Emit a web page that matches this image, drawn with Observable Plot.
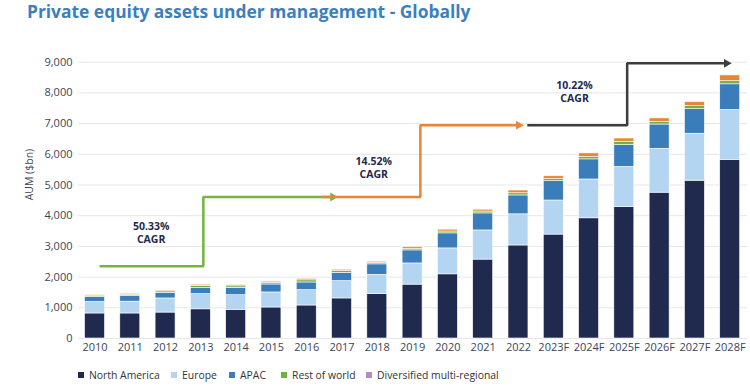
<!DOCTYPE html>
<html>
<head>
<meta charset="utf-8">
<script src="https://cdn.jsdelivr.net/npm/d3@7"></script>
<script src="https://cdn.jsdelivr.net/npm/@observablehq/plot@0.6"></script>
<style>
  html, body { margin: 0; padding: 0; background: #fff; }
  body { width: 750px; height: 390px; overflow: hidden; font-family: "Open Sans", sans-serif; }
  #title { height: 40px; box-sizing: border-box; padding: 0 0 0 27px; font-size: 17.4px; font-weight: 700; color: #3c7fbf; line-height: 22px; white-space: nowrap; }
  #legend { position: relative; height: 30px; font-size: 10.4px; color: #333; }
  .item { position: absolute; top: 8px; line-height: 14px; display: flex; align-items: center; white-space: nowrap; }
  .sw { width: 6px; height: 6px; margin-right: 5px; display: inline-block; }
</style>
</head>
<body>
<div id="title">Private equity assets under management - Globally</div>
<div id="chart"></div>
<div id="legend"></div>
<script>
const years = ["2010","2011","2012","2013","2014","2015","2016","2017","2018","2019","2020","2021","2022","2023F","2024F","2025F","2026F","2027F","2028F"];
const northAmerica = [815, 815, 845, 950, 935, 1010, 1075, 1305, 1445, 1755, 2090, 2570, 3030, 3385, 3915, 4285, 4750, 5140, 5820];
const europe       = [375, 385, 460, 495, 475, 490, 500, 565, 630, 690, 845, 950, 1015, 1110, 1265, 1305, 1430, 1530, 1625];
const apac         = [160, 180, 185, 195, 240, 260, 250, 270, 340, 425, 490, 555, 615, 630, 655, 710, 790, 800, 835];
const restOfWorld  = [45, 45, 45, 70, 50, 50, 70, 60, 45, 55, 60, 60, 70, 70, 80, 110, 80, 100, 100];
const diversified  = [25, 30, 30, 40, 40, 40, 45, 40, 40, 55, 60, 60, 90, 90, 115, 105, 120, 130, 190];

const seriesNames = ["North America", "Europe", "APAC", "Rest of world", "Diversified multi-regional"];
const seriesValues = [northAmerica, europe, apac, restOfWorld, diversified];
const barColors = ["#1f2a4e", "#b3d5f1", "#3a7dba", "#72b043", "#e8853a"];
const legendColors = ["#1f2a4e", "#b3d5f1", "#3a7dba", "#72b043", "#b48ac2"];

const yTicks = [0, 1000, 2000, 3000, 4000, 5000, 6000, 7000, 8000, 9000];

// CAGR annotations (x in year-index units, y in $bn)
const greenArrow  = [[0.13, 2350], [3.07, 2350], [3.07, 4610], [6.68, 4610]];
const orangeArrow = [[6.42, 4610], [9.22, 4610], [9.22, 6950], [11.95, 6950]];
const darkArrow   = [[12.25, 6950], [15.08, 6950], [15.08, 8962], [17.84, 8962]];
const arrowColors = ["#75b444", "#e8853a", "#3d3d3d"];
const cagrValues = ["50.33%", "14.52%", "10.22%"];
const cagrX = [1.59, 7.90, 13.59];
const cagrY = [3425, 5545, 8010];
const cagrWord = "CAGR";

// stacked rows
const rows = [];
years.forEach((yr, i) => {
  let cum = 0;
  seriesNames.forEach((s, k) => {
    const v = seriesValues[k][i];
    rows.push({i, year: yr, series: s, y1: cum, y2: cum + v});
    cum += v;
  });
});
const half = 0.283;

const arrows = [greenArrow, orangeArrow, darkArrow];
const arrowMarks = [];
arrows.forEach((pts, k) => {
  arrowMarks.push(Plot.line(pts, {x: d => d[0], y: d => d[1], stroke: arrowColors[k], strokeWidth: 2.5, strokeLinejoin: "miter", strokeLinecap: "butt"}));
  arrowMarks.push(Plot.dot([pts[pts.length - 1]], {x: d => d[0], y: d => d[1], symbol: "triangle", rotate: 90, r: 3.3, fill: arrowColors[k], stroke: "none", dx: 2}));
});

const cagr = cagrValues.map((v, k) => ({x: cagrX[k], y: cagrY[k], value: v}));

const chart = Plot.plot({
  width: 750,
  height: 320,
  marginLeft: 78,
  marginRight: 3,
  marginTop: 21.7,
  marginBottom: 22,
  style: {fontFamily: "'Open Sans', sans-serif", fontSize: "11px", color: "#3b4556", background: "#fff"},
  x: {type: "linear", domain: [-0.4676, 18.49], axis: null},
  y: {domain: [0, 9000], axis: null},
  color: {domain: seriesNames, range: barColors},
  marks: [
    Plot.ruleY(yTicks, {stroke: "#e7e7e7", strokeWidth: 1}),
    Plot.rect(rows, {x1: d => d.i - half, x2: d => d.i + half, y1: "y1", y2: "y2", fill: "series", stroke: "#ffffff", strokeWidth: 0.6}),
    Plot.axisY({ticks: yTicks, tickFormat: d3.format(","), tickSize: 0, tickPadding: 6, label: null, fontSize: 11, fill: "#3b4556"}),
    Plot.axisX({ticks: d3.range(years.length), tickFormat: i => years[i], tickSize: 0, tickPadding: 5, label: null, fontSize: 11, fill: "#3b4556"}),
    Plot.text(["AUM ($bn)"], {frameAnchor: "left", dx: -49, rotate: -90, fontSize: 10.5, fill: "#3b4556"}),
    ...arrowMarks,
    Plot.text(cagr, {x: "x", y: "y", text: "value", dy: -6.5, fontWeight: "bold", fontSize: 10.5, fill: "#1f2a4e"}),
    Plot.text(cagr, {x: "x", y: "y", text: () => cagrWord, dy: 6.5, fontWeight: "bold", fontSize: 10.5, fill: "#1f2a4e"})
  ]
});
document.getElementById("chart").appendChild(chart);

const legendLefts = [78, 171, 229, 281, 366];
const legend = document.getElementById("legend");
seriesNames.forEach((s, k) => {
  const it = document.createElement("div");
  it.className = "item";
  it.style.left = legendLefts[k] + "px";
  const sw = document.createElement("span");
  sw.className = "sw";
  sw.style.background = legendColors[k];
  it.appendChild(sw);
  it.appendChild(document.createTextNode(s));
  legend.appendChild(it);
});
</script>
</body>
</html>
